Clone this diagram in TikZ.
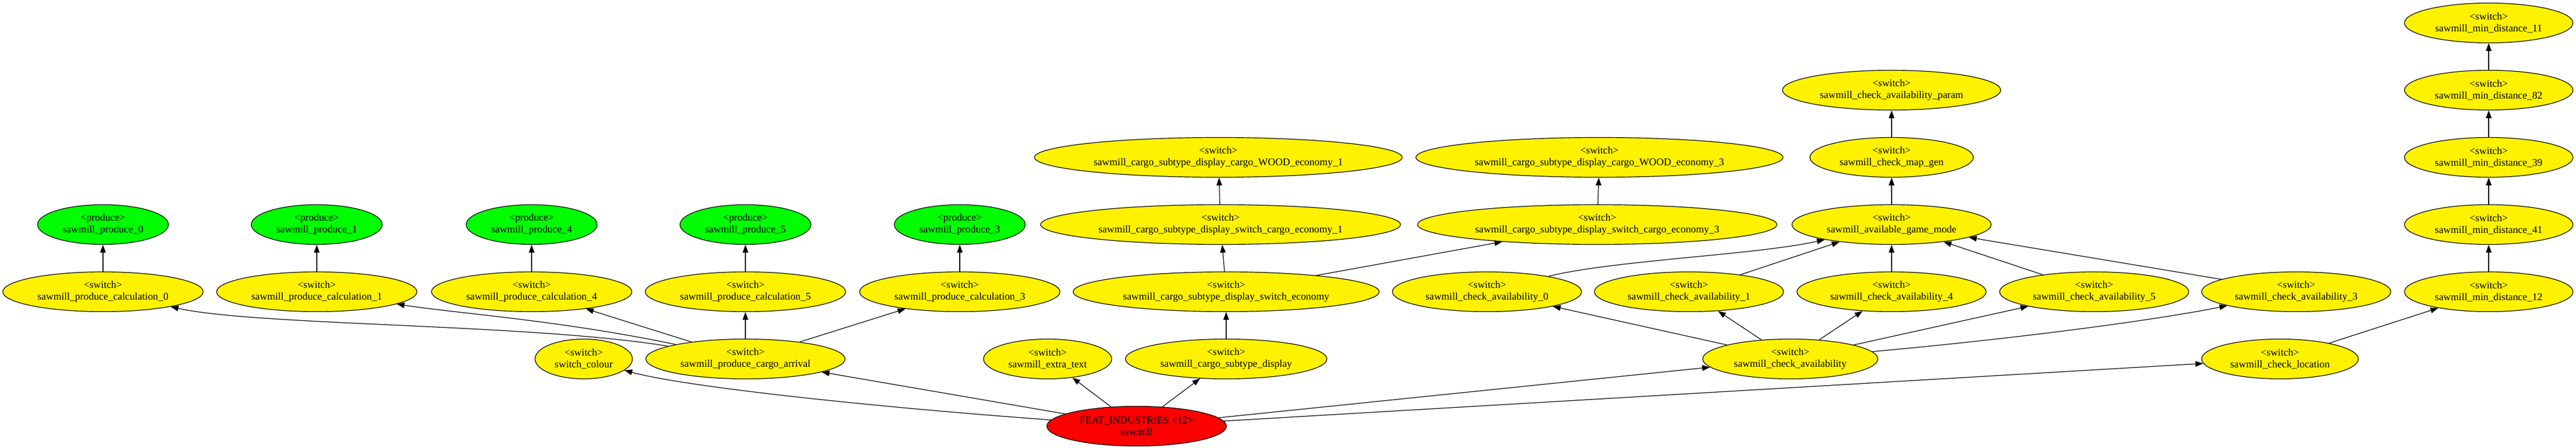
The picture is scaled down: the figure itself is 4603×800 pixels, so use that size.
\documentclass[tikz,border=0pt]{standalone}
\usepackage{fontspec}
\setmainfont{Liberation Serif}
\usetikzlibrary{shapes.geometric,arrows.meta}
\begin{document}
\begin{tikzpicture}[x=1pt,y=-1pt,
 gv/.style={ellipse, draw, line width=1.2pt, inner sep=0pt, minimum height=71pt, align=center, font=\fontsize{18.3}{21}\selectfont},
 sw/.style={gv, fill=yellow},
 pr/.style={gv, fill=green},
 ft/.style={gv, fill=red},
 edge/.style={line width=1.2pt, -{Triangle[length=14pt,width=10pt]}}]
\useasboundingbox (0,0) rectangle (4603,800);
% rank 0
\node[ft, minimum width=321pt] (feat) at (2031,761) {FEAT\_INDUSTRIES <12>\\sawmill};
% rank 1
\node[sw, minimum width=174pt] (scol) at (1043,641) {<switch>\\switch\_colour};
\node[sw, minimum width=356pt] (arr) at (1332,641) {<switch>\\sawmill\_produce\_cargo\_arrival};
\node[sw, minimum width=229pt] (etx) at (1872,641) {<switch>\\sawmill\_extra\_text};
\node[sw, minimum width=360pt] (csd) at (2191,641) {<switch>\\sawmill\_cargo\_subtype\_display};
\node[sw, minimum width=313pt] (cav) at (3199,641) {<switch>\\sawmill\_check\_availability};
\node[sw, minimum width=280pt] (cloc) at (4074,641) {<switch>\\sawmill\_check\_location};
% rank 2
\node[sw, minimum width=358pt] (c0) at (184,521) {<switch>\\sawmill\_produce\_calculation\_0};
\node[sw, minimum width=358pt] (c1) at (566,521) {<switch>\\sawmill\_produce\_calculation\_1};
\node[sw, minimum width=358pt] (c4) at (950,521) {<switch>\\sawmill\_produce\_calculation\_4};
\node[sw, minimum width=358pt] (c5) at (1332,521) {<switch>\\sawmill\_produce\_calculation\_5};
\node[sw, minimum width=358pt] (c3) at (1715,521) {<switch>\\sawmill\_produce\_calculation\_3};
\node[sw, minimum width=547pt] (cse) at (2191,521) {<switch>\\sawmill\_cargo\_subtype\_display\_switch\_economy};
\node[sw, minimum width=338pt] (ca0) at (2657,521) {<switch>\\sawmill\_check\_availability\_0};
\node[sw, minimum width=338pt] (ca1) at (3018,521) {<switch>\\sawmill\_check\_availability\_1};
\node[sw, minimum width=338pt] (ca4) at (3380,521) {<switch>\\sawmill\_check\_availability\_4};
\node[sw, minimum width=338pt] (ca5) at (3742,521) {<switch>\\sawmill\_check\_availability\_5};
\node[sw, minimum width=338pt] (ca3) at (4103,521) {<switch>\\sawmill\_check\_availability\_3};
\node[sw, minimum width=301pt] (md12) at (4447,521) {<switch>\\sawmill\_min\_distance\_12};
% rank 3
\node[pr, minimum width=234pt] (p0) at (184,401) {<produce>\\sawmill\_produce\_0};
\node[pr, minimum width=234pt] (p1) at (566,401) {<produce>\\sawmill\_produce\_1};
\node[pr, minimum width=234pt] (p4) at (950,401) {<produce>\\sawmill\_produce\_4};
\node[pr, minimum width=234pt] (p5) at (1332,401) {<produce>\\sawmill\_produce\_5};
\node[pr, minimum width=234pt] (p3) at (1715,401) {<produce>\\sawmill\_produce\_3};
\node[sw, minimum width=643pt] (sce1) at (2181,401) {<switch>\\sawmill\_cargo\_subtype\_display\_switch\_cargo\_economy\_1};
\node[sw, minimum width=642pt] (sce3) at (2854,401) {<switch>\\sawmill\_cargo\_subtype\_display\_switch\_cargo\_economy\_3};
\node[sw, minimum width=356pt] (agm) at (3380,401) {<switch>\\sawmill\_available\_game\_mode};
\node[sw, minimum width=301pt] (md41) at (4447,401) {<switch>\\sawmill\_min\_distance\_41};
% rank 4
\node[sw, minimum width=657pt] (w1) at (2177,281) {<switch>\\sawmill\_cargo\_subtype\_display\_cargo\_WOOD\_economy\_1};
\node[sw, minimum width=656pt] (w3) at (2858,281) {<switch>\\sawmill\_cargo\_subtype\_display\_cargo\_WOOD\_economy\_3};
\node[sw, minimum width=292pt] (cmg) at (3380,281) {<switch>\\sawmill\_check\_map\_gen};
\node[sw, minimum width=301pt] (md39) at (4447,281) {<switch>\\sawmill\_min\_distance\_39};
% rank 5
\node[sw, minimum width=390pt] (cap) at (3380,161) {<switch>\\sawmill\_check\_availability\_param};
\node[sw, minimum width=301pt] (md82) at (4447,161) {<switch>\\sawmill\_min\_distance\_82};
% rank 6
\node[sw, minimum width=301pt] (md11) at (4447,41) {<switch>\\sawmill\_min\_distance\_11};
% edges from FEAT
\draw[edge] (feat) .. controls (1550,726) and (1220,690) .. (scol);
\draw[edge] (feat) -- (arr);
\draw[edge] (feat) -- (etx);
\draw[edge] (feat) -- (csd);
\draw[edge] (feat) -- (cav);
\draw[edge] (feat) -- (cloc);
% produce chain
\draw[edge] (arr) .. controls (950,578) and (460,582) .. (c0);
\draw[edge] (arr) .. controls (1000,572) and (820,560) .. (c1);
\draw[edge] (arr) -- (c4);
\draw[edge] (arr) -- (c5);
\draw[edge] (arr) -- (c3);
\draw[edge] (c0) -- (p0);
\draw[edge] (c1) -- (p1);
\draw[edge] (c4) -- (p4);
\draw[edge] (c5) -- (p5);
\draw[edge] (c3) -- (p3);
% cargo subtype chain
\draw[edge] (csd) -- (cse);
\draw[edge] (cse) -- (sce1);
\draw[edge] (cse) -- (sce3);
\draw[edge] (sce1) -- (w1);
\draw[edge] (sce3) -- (w3);
% availability
\draw[edge] (cav) -- (ca0);
\draw[edge] (cav) -- (ca1);
\draw[edge] (cav) -- (ca4);
\draw[edge] (cav) -- (ca5);
\draw[edge] (cav) .. controls (3600,605) and (3850,572) .. (ca3);
\draw[edge] (ca0) .. controls (2880,465) and (3140,455) .. (agm);
\draw[edge] (ca1) -- (agm);
\draw[edge] (ca4) -- (agm);
\draw[edge] (ca5) -- (agm);
\draw[edge] (ca3) -- (agm);
\draw[edge] (agm) -- (cmg);
\draw[edge] (cmg) -- (cap);
% location chain
\draw[edge] (cloc) -- (md12);
\draw[edge] (md12) -- (md41);
\draw[edge] (md41) -- (md39);
\draw[edge] (md39) -- (md82);
\draw[edge] (md82) -- (md11);
\end{tikzpicture}
\end{document}
